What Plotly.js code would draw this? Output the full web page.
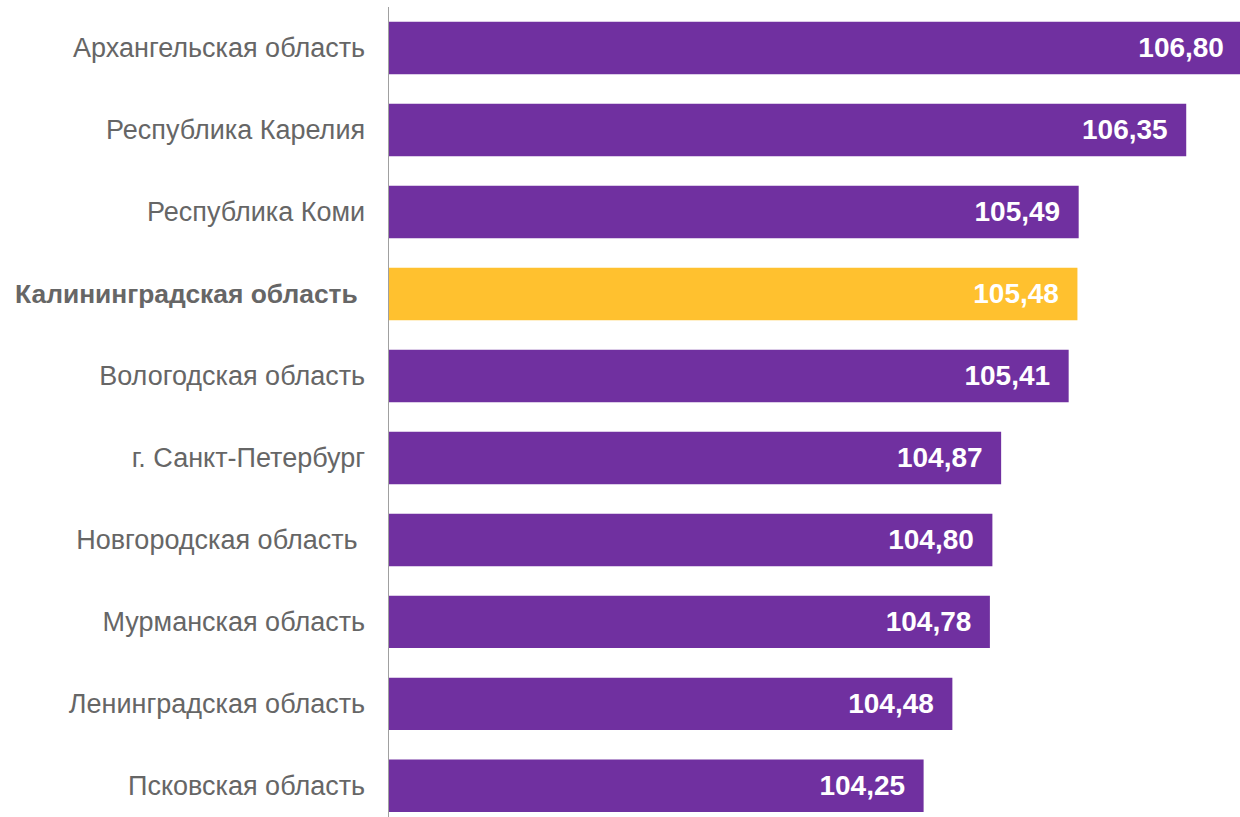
<!DOCTYPE html>
<html>
<head>
<meta charset="utf-8">
<script src="https://cdn.plot.ly/plotly-3.0.1.min.js"></script>
<style>html,body{margin:0;padding:0;background:#fff;}#chart{width:1240px;height:817px;}</style>
</head>
<body>
<div id="chart"></div>
<script>
var regions = [
  "Архангельская область",
  "Республика Карелия",
  "Республика Коми",
  "Калининградская область",
  "Вологодская область",
  "г. Санкт-Петербург",
  "Новгородская область",
  "Мурманская область",
  "Ленинградская область",
  "Псковская область"
];
var values = [106.80, 106.35, 105.49, 105.48, 105.41, 104.87, 104.80, 104.78, 104.48, 104.25];
var highlight = "Калининградская область";
var trailingSpace = ["Калининградская область", "Новгородская область"];

var labels = regions.map(function(r){
  var t = r + (trailingSpace.indexOf(r) >= 0 ? "\u00a0" : "");
  return r === highlight ? "<b><span style='font-size:26.4px'>" + t + "</span></b>" : t;
});
var colors = regions.map(function(r){ return r === highlight ? "#FFC12F" : "#7030A0"; });

var trace = {
  type: "bar",
  orientation: "h",
  x: values,
  y: labels,
  width: 0.64,
  marker: {color: colors, line: {width: 0}},
  text: values.map(function(v){ return v.toFixed(2).replace(".", ",") + "\u00a0\u00a0"; }),
  textposition: "inside",
  insidetextanchor: "end",
  textfont: {family: "Liberation Sans, Arial, sans-serif", size: 28, color: "#ffffff", weight: "bold"},
  cliponaxis: true,
  hoverinfo: "skip"
};

var layout = {
  width: 1240,
  height: 817,
  margin: {l: 389, r: 0, t: 7, b: 0, pad: 0},
  paper_bgcolor: "#ffffff",
  plot_bgcolor: "#ffffff",
  showlegend: false,
  xaxis: {
    range: [99.975, 106.78],
    showgrid: false,
    zeroline: false,
    showticklabels: false,
    showline: false,
    ticks: ""
  },
  yaxis: {
    type: "category",
    range: [9.38, -0.5],
    showgrid: false,
    zeroline: false,
    showline: true,
    linecolor: "#A0A0A0",
    linewidth: 1.5,
    ticks: "",
    ticklabelstandoff: 17,
    tickfont: {family: "Liberation Sans, Arial, sans-serif", size: 27, color: "#666666"}
  }
};

Plotly.newPlot("chart", [trace], layout, {staticPlot: true, displayModeBar: false});
</script>
</body>
</html>
